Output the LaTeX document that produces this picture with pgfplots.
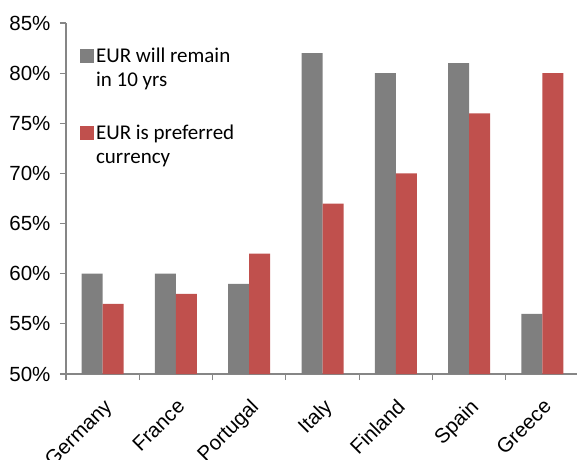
\documentclass[border=0pt]{standalone}
\usepackage{fontspec}
\setmainfont{Liberation Sans}
\newfontfamily\legfont{Carlito}
\usepackage{pgfplots}
\pgfplotsset{compat=1.18}
\definecolor{bargrey}{HTML}{7F7F7F}
\definecolor{barred}{HTML}{C0504D}
\definecolor{axgrey}{HTML}{868686}
\pgfplotsset{/pgfplots/ybar legend/.style={/pgfplots/legend image code/.code={\fill[##1] (0pt,5pt) rectangle (14pt,19pt);}}}
\begin{document}
\begin{tikzpicture}
\useasboundingbox (-66pt,-85pt) rectangle (511pt,374pt);
\clip (-66pt,-85pt) rectangle (511pt,374pt);
\begin{axis}[
  at={(0pt,0pt)}, anchor=south west,
  scale only axis, width=513pt, height=351pt,
  xmin=-0.5, xmax=6.5, ymin=50, ymax=85,
  ybar=0pt, bar width=21pt,
  axis x line*=bottom, axis y line*=left,
  axis line style={draw=axgrey, line width=1.5pt, -},
  ytick={50,55,...,85},
  yticklabels={50\%,55\%,60\%,65\%,70\%,75\%,80\%,85\%},
  xtick={0,...,6},
  xticklabels={Germany,France,Portugal,Italy,Finland,Spain,Greece},
  minor xtick={-0.5,0.5,...,6.5},
  tick align=outside,
  major tick length=6pt, minor tick length=6pt,
  major x tick style={draw=none},
  minor x tick style={draw=axgrey, line width=1.2pt},
  ytick style={draw=axgrey, line width=1.2pt},
  yticklabel style={font=\fontsize{20.5}{24}\selectfont, xshift=-6pt},
  xticklabel style={font=\fontsize{20.5}{24}\selectfont, rotate=45, anchor=north east, yshift=-9pt, xshift=-9pt},
  legend style={draw=none, fill=none, at={(0.027,0.935)}, anchor=north west,
    font=\legfont\fontsize{21}{24}\selectfont, cells={align=left, anchor=west},
    row sep=33pt, inner sep=0pt},
]
\addplot[fill=bargrey, draw=none] coordinates {(0,60) (1,60) (2,59) (3,82) (4,80) (5,81) (6,56)};
\addlegendentry{EUR will remain\\in 10 yrs}
\addplot[fill=barred, draw=none] coordinates {(0,57) (1,58) (2,62) (3,67) (4,70) (5,76) (6,80)};
\addlegendentry{EUR is preferred\\currency}
\end{axis}
\end{tikzpicture}
\end{document}
